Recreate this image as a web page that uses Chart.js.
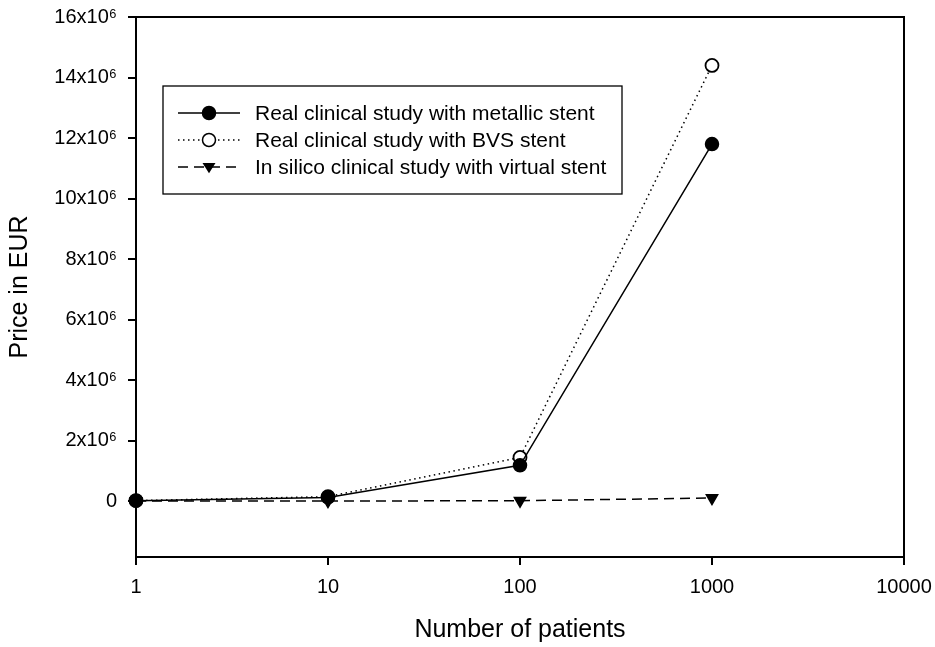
<!DOCTYPE html>
<html>
<head>
<meta charset="utf-8">
<script src="https://cdn.jsdelivr.net/npm/chart.js@4"></script>
<style>
  html, body { margin: 0; padding: 0; background: #fff; }
  #wrap { width: 935px; height: 647px; }
</style>
</head>
<body>
<div id="wrap"><canvas id="grafico"></canvas></div>
<script>
const patients = [1, 10, 100, 1000];
const metallic = [11800, 118000, 1180000, 11800000];
const bvs = [14400, 144000, 1440000, 14400000];
const virtualStent = [100, 1000, 10000, 100000];
const xTicks = [1, 10, 100, 1000, 10000];
const yTicks = [0, 2e6, 4e6, 6e6, 8e6, 10e6, 12e6, 14e6, 16e6];
const legendLabels = [
    'Real clinical study with metallic stent',
    'Real clinical study with BVS stent',
    'In silico clinical study with virtual stent'
];

const fonte = 'Liberation Sans, Arial, sans-serif';

function pontos(valores) {
    return patients.map((x, i) => ({ x: x, y: valores[i] }));
}

// moldura em volta da area do grafico
const moldura = {
    id: 'moldura',
    afterDatasetsDraw(chart) {
        const { ctx, chartArea: a } = chart;
        ctx.save();
        ctx.strokeStyle = '#000';
        ctx.lineWidth = 2;
        ctx.strokeRect(a.left, a.top, a.right - a.left, a.bottom - a.top);
        ctx.restore();
    }
};

// legenda dentro do grafico
const legenda = {
    id: 'legenda',
    afterDraw(chart) {
        const ctx = chart.ctx;
        const box = { x: 163, y: 86, w: 459, h: 108 };
        ctx.save();
        ctx.fillStyle = '#fff';
        ctx.fillRect(box.x, box.y, box.w, box.h);
        ctx.strokeStyle = '#000';
        ctx.lineWidth = 1.3;
        ctx.strokeRect(box.x, box.y, box.w, box.h);

        const estilos = chart.data.datasets;
        const linhas = [113, 140, 167];
        estilos.forEach((ds, i) => {
            const y = linhas[i];
            ctx.strokeStyle = '#000';
            ctx.lineWidth = ds.borderWidth;
            ctx.setLineDash(ds.borderDash || []);
            ctx.beginPath();
            ctx.moveTo(178, y);
            ctx.lineTo(240, y);
            ctx.stroke();
            ctx.setLineDash([]);
            ctx.lineWidth = 1.5;
            const cx = 209;
            if (ds.pointStyle === 'triangle') {
                const r = ds.pointRadius;
                ctx.fillStyle = '#000';
                ctx.beginPath();
                ctx.moveTo(cx - r, y - r * 0.6);
                ctx.lineTo(cx + r, y - r * 0.6);
                ctx.lineTo(cx, y + r * 0.95);
                ctx.closePath();
                ctx.fill();
            } else {
                ctx.fillStyle = ds.pointBackgroundColor;
                ctx.beginPath();
                ctx.arc(cx, y, ds.pointRadius, 0, Math.PI * 2);
                ctx.fill();
                ctx.stroke();
            }
            ctx.fillStyle = '#000';
            ctx.font = '21px ' + fonte;
            ctx.textBaseline = 'middle';
            ctx.textAlign = 'left';
            ctx.fillText(legendLabels[i], 255, y + 1);
        });
        ctx.restore();
    }
};

new Chart(document.getElementById('grafico').getContext('2d'), {
    type: 'line',
    data: {
        datasets: [
            {
                label: legendLabels[0],
                data: pontos(metallic),
                borderColor: '#000',
                borderWidth: 1.5,
                pointRadius: 6.5,
                pointHoverRadius: 6.5,
                pointBackgroundColor: '#000',
                pointBorderColor: '#000',
                clip: false
            },
            {
                label: legendLabels[1],
                data: pontos(bvs),
                borderColor: '#000',
                borderWidth: 1.5,
                borderDash: [1.5, 3.5],
                pointRadius: 6.5,
                pointHoverRadius: 6.5,
                pointBackgroundColor: '#fff',
                pointBorderColor: '#000',
                pointBorderWidth: 1.8,
                clip: false
            },
            {
                label: legendLabels[2],
                data: pontos(virtualStent),
                borderColor: '#000',
                borderWidth: 1.5,
                borderDash: [10, 6],
                pointStyle: 'triangle',
                pointRotation: 180,
                pointRadius: 6.5,
                pointHoverRadius: 6.5,
                pointBackgroundColor: '#000',
                pointBorderColor: '#000',
                clip: false
            }
        ]
    },
    options: {
        responsive: true,
        maintainAspectRatio: false,
        animation: false,
        layout: { padding: { top: 17, right: 31, left: 0, bottom: 0 } },
        plugins: {
            legend: { display: false },
            tooltip: { enabled: false }
        },
        scales: {
            x: {
                type: 'logarithmic',
                min: 1,
                max: 10000,
                afterBuildTicks: (axis) => { axis.ticks = xTicks.map(v => ({ value: v })); },
                afterFit: (scale) => {
                    scale.height = 90;
                    scale.paddingLeft = 0;
                    scale.paddingRight = 0;
                },
                border: { display: true, color: '#000', width: 2 },
                grid: { display: true, drawOnChartArea: false, drawTicks: true, tickLength: 8, color: '#000', lineWidth: 2 },
                ticks: {
                    color: '#000',
                    font: { family: fonte, size: 20 },
                    padding: 10,
                    maxRotation: 0,
                    autoSkip: false,
                    callback: (v) => String(v)
                },
                title: {
                    display: true,
                    text: 'Number of patients',
                    color: '#000',
                    font: { family: fonte, size: 25 },
                    padding: { top: 0, bottom: 2 }
                }
            },
            y: {
                type: 'linear',
                min: -1850000,
                max: 16000000,
                afterBuildTicks: (axis) => { axis.ticks = yTicks.map(v => ({ value: v })); },
                afterFit: (scale) => {
                    scale.width = 136;
                    scale.paddingTop = 0;
                    scale.paddingBottom = 0;
                },
                border: { display: true, color: '#000', width: 2 },
                grid: { display: true, drawOnChartArea: false, drawTicks: true, tickLength: 8, color: '#000', lineWidth: 2 },
                ticks: {
                    color: '#000',
                    font: { family: fonte, size: 20 },
                    padding: 11,
                    autoSkip: false,
                    callback: (v) => v === 0 ? '0' : (v / 1e6) + 'x10\u2076'
                },
                title: {
                    display: true,
                    text: 'Price in EUR',
                    color: '#000',
                    font: { family: fonte, size: 25 },
                    padding: { top: 5, bottom: 0 }
                }
            }
        }
    },
    plugins: [moldura, legenda]
});
</script>
</body>
</html>
